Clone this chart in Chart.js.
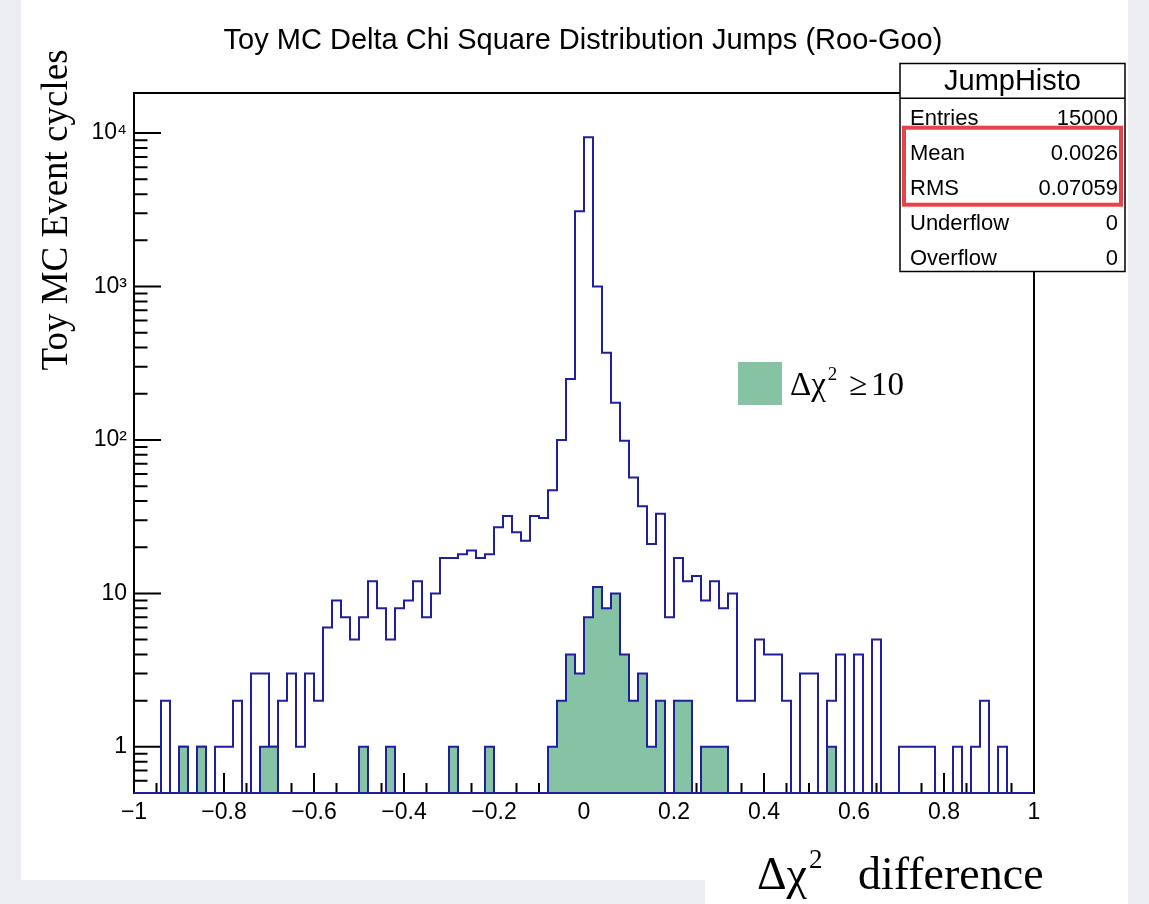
<!DOCTYPE html>
<html>
<head>
<meta charset="utf-8">
<script src="https://cdn.jsdelivr.net/npm/chart.js@4.4.1/dist/chart.umd.min.js"></script>
<style>
  html, body { margin: 0; padding: 0; background: #eceef1; }
  canvas { display: block; }
</style>
</head>
<body>
<canvas id="myCanvas" width="1149" height="904"></canvas>
<script>
const CANVAS_WIDTH = 1149;
const CANVAS_HEIGHT = 904;

// histogram: 100 bins from -1 to 1
const X_LO = -1;
const X_HI = 1;
const N_BINS = 100;

// all jumps (blue outline)
const ALL_COUNTS = [
  0, 0, 0, 2, 0, 1, 0, 1, 0, 1,
  1, 2, 0, 3, 3, 1, 2, 3, 1, 3,
  2, 6, 9, 7, 5, 7, 12, 8, 5, 8,
  9, 12, 7, 10, 17, 17, 18, 19, 17, 18,
  27, 32, 25, 22, 32, 31, 47, 100, 250, 3100,
  9400, 1000, 370, 175, 99, 57, 37, 21, 33, 7,
  17, 12, 13, 9, 12, 8, 10, 2, 2, 5,
  4, 4, 2, 0, 3, 3, 0, 2, 4, 0,
  4, 0, 5, 0, 0, 1, 1, 1, 1, 0,
  0, 1, 0, 1, 2, 0, 1, 0, 0, 0
];
// jumps with delta chi2 >= 10 (green)
const BIG_COUNTS = [
  0, 0, 0, 0, 0, 1, 0, 1, 0, 0,
  0, 0, 0, 0, 1, 1, 0, 0, 0, 0,
  0, 0, 0, 0, 0, 1, 0, 0, 1, 0,
  0, 0, 0, 0, 0, 1, 0, 0, 0, 1,
  0, 0, 0, 0, 0, 0, 1, 2, 4, 3,
  7, 11, 8, 10, 4, 2, 3, 1, 2, 0,
  2, 2, 0, 1, 1, 1, 0, 0, 0, 0,
  0, 0, 0, 0, 0, 0, 0, 1, 0, 0,
  0, 0, 0, 0, 0, 0, 0, 0, 0, 0,
  0, 0, 0, 0, 0, 0, 0, 0, 0, 0
];

const X_TICKS = [-1, -0.8, -0.6, -0.4, -0.2, 0, 0.2, 0.4, 0.6, 0.8, 1];
const X_TICK_LABELS = ['\u22121', '\u22120.8', '\u22120.6', '\u22120.4', '\u22120.2', '0', '0.2', '0.4', '0.6', '0.8', '1'];
const Y_MAJOR = [1, 10, 100, 1000, 10000];
const Y_MAJOR_LABELS = ['1', '10', '10\u00b2', '10\u00b3', '10\u2074'];
const Y_MIN = 0.5;
const Y_MAX = 18260;

const STAT_NAMES = ['Entries', 'Mean', 'RMS', 'Underflow', 'Overflow'];
const STAT_VALUES = ['15000', '0.0026', '0.07059', '0', '0'];

const TITLE = 'Toy MC Delta Chi Square Distribution Jumps (Roo-Goo)';
const Y_TITLE = 'Toy MC Event cycles';
const HIST_NAME = 'JumpHisto';

const LINE_BLUE = '#1f1f9f';
const FILL_GREEN = '#86c2a4';
const PAGE_GREY = '#eceef1';
const SANS = '"Liberation Sans", Arial, sans-serif';
const SERIF = '"Liberation Serif", "Times New Roman", serif';

// step points: rise at x=-1, one point per bin low edge, fall at x=1
function stepPoints(counts){
	var w = (X_HI - X_LO) / N_BINS;
	var pts = [{x: X_LO, y: Y_MIN}];
	for (var i = 0; i < counts.length; i++){
		pts.push({x: X_LO + i * w, y: counts[i] > 0 ? counts[i] : Y_MIN});
	}
	pts.push({x: X_HI, y: Y_MIN});
	return pts;
}

// Δχ with a small raised 2
function drawDeltaChi2(ctx, x, y, size){
	ctx.font = size + 'px ' + SERIF;
	ctx.textAlign = 'left';
	ctx.fillText('\u0394\u03c7', x, y);
	var w = ctx.measureText('\u0394\u03c7').width;
	ctx.font = Math.round(size * 0.58) + 'px ' + SERIF;
	ctx.fillText('2', x + w + 2, y - size * 0.45);
	return x + w + 2 + ctx.measureText('2').width;
}

const rootStyle = {
	id: 'rootStyle',
	beforeDraw(chart){
		var ctx = chart.ctx;
		ctx.save();
		ctx.fillStyle = PAGE_GREY;
		ctx.fillRect(0, 0, CANVAS_WIDTH, CANVAS_HEIGHT);
		ctx.fillStyle = '#ffffff';
		ctx.fillRect(21, 0, 1107, 880);
		ctx.fillRect(705, 840, 423, 64);
		ctx.restore();
	},
	beforeDatasetsDraw(chart){
		var ctx = chart.ctx;
		var a = chart.chartArea;
		var xs = chart.scales.x, ys = chart.scales.y;
		ctx.save();
		ctx.strokeStyle = '#000';
		ctx.lineWidth = 2;
		ctx.beginPath();
		// y ticks inside the frame
		ys.ticks.forEach(function(t){
			var py = ys.getPixelForValue(t.value);
			var len = Y_MAJOR.indexOf(t.value) >= 0 ? 27 : 13.5;
			ctx.moveTo(a.left, py);
			ctx.lineTo(a.left + len, py);
		});
		// x ticks every 0.05, long every 0.2
		for (var k = -20; k <= 20; k++){
			var px = xs.getPixelForValue(k / 20);
			var len = (k % 4 === 0) ? 20 : 10;
			ctx.moveTo(px, a.bottom);
			ctx.lineTo(px, a.bottom - len);
		}
		ctx.stroke();
		ctx.strokeRect(a.left, a.top, a.right - a.left, a.bottom - a.top);
		ctx.restore();
	},
	afterDatasetsDraw(chart){
		var ctx = chart.ctx;
		var a = chart.chartArea;
		ctx.save();
		ctx.strokeStyle = LINE_BLUE;
		ctx.lineWidth = 2;
		ctx.beginPath();
		ctx.moveTo(a.left, a.bottom);
		ctx.lineTo(a.right, a.bottom);
		ctx.stroke();
		ctx.restore();
	},
	afterDraw(chart){
		var ctx = chart.ctx;
		ctx.save();
		ctx.fillStyle = '#000';
		ctx.textBaseline = 'alphabetic';

		// title
		ctx.font = '29px ' + SANS;
		ctx.textAlign = 'center';
		ctx.fillText(TITLE, 583, 49);

		// y title
		ctx.save();
		ctx.translate(66.5, 210);
		ctx.rotate(-Math.PI / 2);
		ctx.font = '37px ' + SERIF;
		ctx.textAlign = 'center';
		ctx.fillText(Y_TITLE, 0, 0);
		ctx.restore();

		// x title
		drawDeltaChi2(ctx, 757, 889, 46);
		ctx.font = '46px ' + SERIF;
		ctx.textAlign = 'left';
		ctx.fillText('difference', 858, 889);

		// legend
		ctx.fillStyle = FILL_GREEN;
		ctx.fillRect(738, 362, 44, 43);
		ctx.fillStyle = '#000';
		drawDeltaChi2(ctx, 790, 395, 33);
		ctx.font = '33px ' + SERIF;
		ctx.textAlign = 'left';
		ctx.fillText('\u2265', 849, 395);
		ctx.fillText('10', 871, 395);

		// stats box
		ctx.fillStyle = '#ffffff';
		ctx.fillRect(900, 63.5, 225, 208);
		ctx.strokeStyle = '#000';
		ctx.lineWidth = 1.5;
		ctx.strokeRect(900, 63.5, 225, 208);
		ctx.beginPath();
		ctx.moveTo(900, 98.3);
		ctx.lineTo(1125, 98.3);
		ctx.stroke();
		ctx.fillStyle = '#000';
		ctx.font = '29px ' + SANS;
		ctx.textAlign = 'center';
		ctx.fillText(HIST_NAME, 1012.5, 89.5);
		ctx.font = '22px ' + SANS;
		for (var i = 0; i < STAT_NAMES.length; i++){
			var by = 124.5 + 35 * i;
			ctx.textAlign = 'left';
			ctx.fillText(STAT_NAMES[i], 910, by);
			ctx.textAlign = 'right';
			ctx.fillText(STAT_VALUES[i], 1118, by);
		}
		// red highlight round Mean/RMS
		ctx.strokeStyle = '#e8434c';
		ctx.lineWidth = 4;
		ctx.strokeRect(904, 127.7, 217, 77);
		ctx.restore();
	}
};

var ctx = document.getElementById('myCanvas').getContext('2d');
var chart = new Chart(ctx, {
	type: 'line',
	data: {
		datasets: [{
			label: 'big',
			data: stepPoints(BIG_COUNTS),
			stepped: true,
			borderColor: LINE_BLUE,
			backgroundColor: FILL_GREEN,
			borderWidth: 2,
			fill: 'start',
			pointRadius: 0,
			tension: 0
		}, {
			label: 'all',
			data: stepPoints(ALL_COUNTS),
			stepped: true,
			borderColor: LINE_BLUE,
			borderWidth: 2,
			fill: false,
			pointRadius: 0,
			tension: 0
		}]
	},
	options: {
		responsive: false,
		animation: false,
		devicePixelRatio: 1,
		layout: { padding: { left: 0, top: 93, right: 115, bottom: 51 } },
		plugins: { legend: { display: false }, tooltip: { enabled: false } },
		scales: {
			x: {
				type: 'linear',
				min: X_LO,
				max: X_HI,
				grid: { display: false, drawTicks: false },
				border: { display: false },
				afterBuildTicks: function(scale){
					scale.ticks = X_TICKS.map(function(v){ return {value: v}; });
				},
				afterFit: function(scale){ scale.height = 60; },
				ticks: {
					autoSkip: false,
					maxRotation: 0,
					padding: 6,
					color: '#000',
					font: { family: SANS, size: 23 },
					callback: function(v, i){ return X_TICK_LABELS[i]; }
				}
			},
			y: {
				type: 'logarithmic',
				min: Y_MIN,
				max: Y_MAX,
				bounds: 'data',
				grid: { display: false, drawTicks: false },
				border: { display: false },
				afterBuildTicks: function(scale){
					var t = [];
					for (var d = -1; d <= 4; d++){
						for (var m = 1; m <= 9; m++){
							var v = Number((m * Math.pow(10, d)).toPrecision(3));
							if (v > Y_MIN && v < Y_MAX) t.push({value: v});
						}
					}
					scale.ticks = t;
				},
				afterFit: function(scale){ scale.width = 134; },
				ticks: {
					autoSkip: false,
					padding: 7,
					color: '#000',
					font: { family: SANS, size: 23 },
					callback: function(v){
						var i = Y_MAJOR.indexOf(v);
						return i >= 0 ? Y_MAJOR_LABELS[i] : '';
					}
				}
			}
		}
	},
	plugins: [rootStyle]
});
</script>
</body>
</html>
